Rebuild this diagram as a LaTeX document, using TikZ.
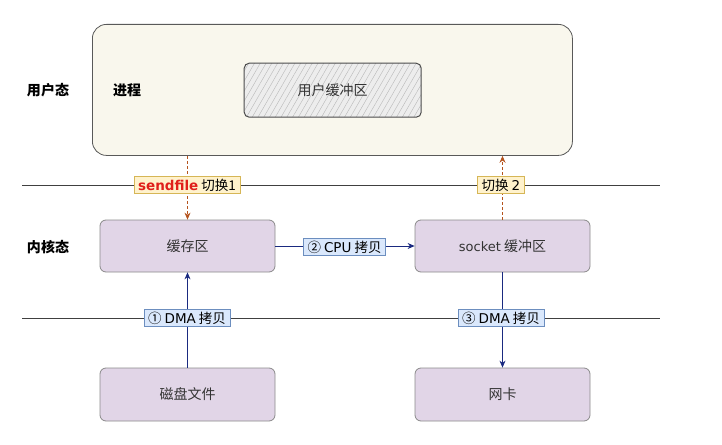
\documentclass[tikz,border=0pt]{standalone}
\usepackage{fontspec}
\setmainfont{Noto Sans CJK SC}
\newfontfamily\latinsans{DejaVu Sans}
\usetikzlibrary{patterns.meta,arrows.meta}
\definecolor{procfill}{HTML}{F9F7ED}
\definecolor{boxfill}{HTML}{E1D5E7}
\definecolor{boxdraw}{HTML}{8A8A8A}
\definecolor{yelfill}{HTML}{FFF2CC}
\definecolor{yeldraw}{HTML}{D6B656}
\definecolor{bluefill}{HTML}{DAE8FC}
\definecolor{bluedraw}{HTML}{6C8EBF}
\definecolor{arrblue}{HTML}{1A2A80}
\definecolor{arrbrown}{HTML}{B5541E}
\definecolor{redtxt}{HTML}{E0201B}
\tikzset{
  kbox/.style={draw=boxdraw, fill=boxfill, rounded corners=6pt, line width=0.8pt},
  yellab/.style={draw=yeldraw, fill=yelfill, line width=0.7pt, inner xsep=4pt, inner ysep=2pt, font=\fontsize{13.5}{15}\selectfont, minimum height=17pt},
  bluelab/.style={draw=bluedraw, fill=bluefill, line width=0.7pt, inner xsep=4pt, inner ysep=2pt, font=\fontsize{13.5}{15}\selectfont, minimum height=17pt},
  bluearr/.style={draw=arrblue, line width=0.8pt, -{Stealth[length=7pt,width=6pt]}},
  brownarr/.style={draw=arrbrown, line width=0.8pt, dashed, dash pattern=on 3pt off 2pt, -{Stealth[length=7pt,width=6pt]}},
  sepline/.style={draw=black!75, line width=0.8pt},
  lbl/.style={font=\fontsize{14}{16}\selectfont\bfseries},
  btxt/.style={font=\fontsize{14}{16}\selectfont, text=black!80}
}
\begin{document}
\begin{tikzpicture}[x=1pt,y=-1pt]
\useasboundingbox (0,0) rectangle (722,444);
% separator lines
\coordinate (l1a) at (22,185); \coordinate (l1b) at (660,185);
\coordinate (l2a) at (22,318); \coordinate (l2b) at (660,318);
\draw[sepline] (l1a) -- (l1b);
\draw[sepline] (l2a) -- (l2b);
% process box
\node[draw=black!65, fill=procfill, rounded corners=14pt, line width=0.8pt, minimum width=480pt, minimum height=131pt, anchor=north west] (proc) at (92,24) {};
\node[draw=black!70, line width=1pt, rounded corners=5pt, minimum width=177pt, minimum height=54pt, anchor=north west,
  preaction={fill=black!7}, pattern={Lines[angle=60,distance=5pt,line width=0.4pt]}, pattern color=black!28] (ubuf) at (244,63) {};
\node[btxt] at (ubuf.center) {用户缓冲区};
\node[lbl] (jc) at (127,90) {进程};
\node[lbl] (uk) at (48,90) {用户态};
\node[lbl] (kk) at (48,247) {内核态};
% kernel boxes
\node[kbox, btxt, minimum width=175pt, minimum height=52pt] (cache) at (187.5,246) {缓存区};
\node[kbox, btxt, minimum width=175pt, minimum height=52pt] (sock) at (502.5,246) {{\latinsans\fontsize{13}{15}\selectfont socket} 缓冲区};
\node[kbox, btxt, minimum width=175pt, minimum height=53pt] (disk) at (187.5,394.5) {磁盘文件};
\node[kbox, btxt, minimum width=175pt, minimum height=53pt] (nic) at (502.5,394.5) {网卡};
% arrows
\draw[brownarr] (proc.south -| cache.north) -- (cache.north);
\draw[brownarr] (sock.north) -- (proc.south -| sock.north);
\draw[bluearr] (cache.east) -- (sock.west);
\draw[bluearr] (disk.north) -- (cache.south);
\draw[bluearr] (sock.south) -- (nic.north);
% labels
\node[yellab] (s1) at (187,185) {{\latinsans\bfseries\color{redtxt}sendfile} 切换1};
\node[yellab] (s2) at (501,185) {切换 {\latinsans 2}};
\node[bluelab] (c2) at (344.5,247) {② {\latinsans CPU} 拷贝};
\node[bluelab] (d1) at (187,318) {① {\latinsans DMA} 拷贝};
\node[bluelab] (d3) at (501,318) {③ {\latinsans DMA} 拷贝};
\end{tikzpicture}
\end{document}
